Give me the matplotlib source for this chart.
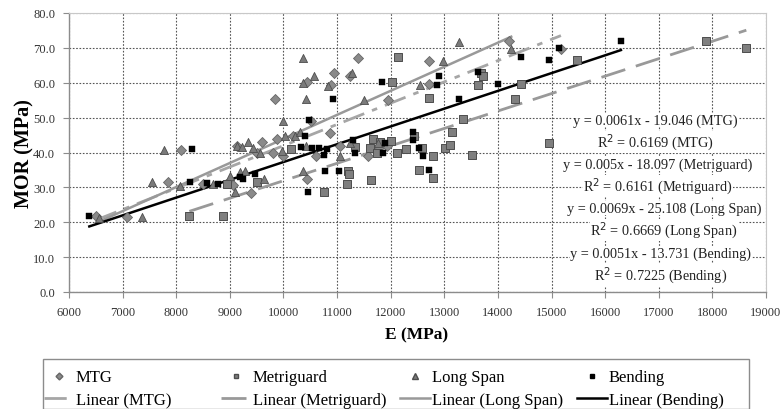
import matplotlib
matplotlib.use("Agg")
import matplotlib.pyplot as plt
from matplotlib.lines import Line2D
from matplotlib.patches import Rectangle
from matplotlib.ticker import FormatStrFormatter, MultipleLocator
import numpy as np

plt.rcParams['font.family'] = ['Liberation Serif', 'DejaVu Serif']

# ---------------- data ----------------
mtg_x = [6498, 7076, 7853, 8090, 8506, 9066, 9140, 9390, 9502, 9607, 9813, 9843, 9875, 9986,
         10186, 10447, 10447, 10510, 10602, 10870, 10890, 10950, 11057, 11243, 11398, 11585,
         11790, 11940, 11958, 12718, 12723, 14198, 15175]
mtg_y = [21.9, 21.4, 31.4, 40.8, 30.9, 30.7, 41.9, 28.4, 39.8, 43.1, 39.8, 55.3, 43.8, 39.0,
         44.8, 32.4, 60.1, 49.1, 39.0, 45.6, 59.4, 62.9, 41.9, 62.0, 67.2, 39.0,
         41.5, 41.9, 55.0, 59.6, 66.3, 72.0, 69.8]

met_x = [8245, 8879, 8943, 9514, 10136, 10764, 11182, 11200, 11225, 11337, 11617, 11630, 11667,
         11742, 11803, 12003, 12020, 12115, 12145, 12288, 12438, 12580, 12519, 12718, 12780,
         12797, 13016, 13109, 13141, 13346, 13514, 13625, 13681, 13718, 14322, 14434, 14944,
         15473, 17880, 18633]
met_y = [21.9, 21.7, 30.9, 31.4, 41.0, 28.6, 30.9, 34.6, 33.8, 41.5, 41.2, 32.1, 43.8,
         40.0, 42.9, 43.2, 60.1, 40.0, 67.4, 41.0, 44.6, 41.2, 35.0, 55.5, 32.6,
         39.0, 41.2, 42.1, 45.8, 49.6, 39.2, 59.4, 62.7, 62.0, 55.3, 59.6, 42.7,
         66.5, 72.0, 69.9]

ls_x = [6560, 7355, 7543, 7778, 8071, 8693, 9004, 9097, 9141, 9191, 9222, 9284, 9346, 9439,
        9564, 9639, 9968, 9999, 10030, 10217, 10311, 10359, 10361, 10373, 10422, 10423, 10577,
        10840, 11057, 11243, 11287, 11505, 11765, 12549, 12972, 13265, 14248]
ls_y = [21.2, 21.4, 31.4, 40.8, 30.5, 30.9, 33.3, 28.6, 41.8, 34.3, 41.6, 34.8, 42.9, 41.3,
        39.8, 32.4, 40.5, 49.1, 44.8, 44.8, 45.8, 34.8, 67.2, 59.8, 55.3, 41.9, 62.0,
        59.1, 39.0, 42.7, 62.9, 55.0, 42.7, 59.4, 66.3, 71.7, 69.6]

bend_x = [6379, 8258, 8289, 8569, 8786, 9191, 9240, 9471, 10324, 10404, 10454, 10478, 10530,
          10671, 10758, 10777, 10820, 10932, 11044, 11305, 11343, 11846, 11853, 11897, 12413,
          12413, 12519, 12598, 12718, 12861, 12904, 13278, 13637, 13998, 14434, 14957, 15130,
          16294]
bend_y = [21.9, 31.4, 41.0, 31.2, 30.9, 32.9, 32.4, 33.8, 41.7, 44.8, 28.7, 49.4, 41.2,
          41.2, 39.2, 34.6, 41.0, 55.3, 34.6, 43.6, 40.0, 60.1, 40.0, 42.6, 45.8,
          43.6, 41.2, 39.0, 35.0, 59.4, 62.0, 55.3, 63.1, 59.6, 67.4, 66.5, 69.9,
          72.0]

series_names = ["MTG", "Metriguard", "Long Span", "Bending"]
slopes = [0.0061, 0.005, 0.0069, 0.0051]
intercepts = [-19.046, -18.097, -25.108, -13.731]
r2 = ["0.6169", "0.6161", "0.6669", "0.7225"]
eq_texts = ["y = 0.0061x - 19.046 (MTG)", "y = 0.005x - 18.097 (Metriguard)",
            "y = 0.0069x - 25.108 (Long Span)", "y = 0.0051x - 13.731 (Bending)"]

# ---------------- figure ----------------
W, H = 782, 410
fig = plt.figure(figsize=(W/100, H/100), dpi=100)
ax = fig.add_axes([69/W, 1-293/H, (766-69)/W, (293-14)/H])

xs_all = [mtg_x, met_x, ls_x, bend_x]

marker_styles = [dict(marker='D', facecolor='#8a8a8a', edgecolor='#666666'),
                 dict(marker='s', facecolor='#7f7f7f', edgecolor='#4d4d4d'),
                 dict(marker='^', facecolor='#7a7a7a', edgecolor='#4d4d4d'),
                 dict(marker='s', facecolor='black', edgecolor='black')]

ax.scatter(mtg_x, mtg_y, s=26, linewidth=0.6, zorder=3, **marker_styles[0])
ax.scatter(met_x, met_y, s=30, linewidth=0.7, zorder=3, **marker_styles[1])
ax.scatter(ls_x, ls_y, s=34, linewidth=0.6, zorder=3, **marker_styles[2])
ax.scatter(bend_x, bend_y, s=14, linewidth=0.3, zorder=4, **marker_styles[3])

line_styles = [dict(color='#a6a6a6', linestyle=(0, (8, 3, 2, 3)), linewidth=2.0),
               dict(color='#999999', linestyle=(0, (9, 4)), linewidth=2.0),
               dict(color='#999999', linestyle='-', linewidth=1.8),
               dict(color='black', linestyle='-', linewidth=1.8)]
for xs, m, b, st in zip(xs_all, slopes, intercepts, line_styles):
    xx = np.array([min(xs), max(xs)], dtype=float)
    ax.plot(xx, m*xx + b, zorder=2, **st)

ax.set_xlim(6000, 19000)
ax.set_ylim(0, 80)
ax.xaxis.set_major_locator(MultipleLocator(1000))
ax.yaxis.set_major_locator(MultipleLocator(10))
ax.yaxis.set_major_formatter(FormatStrFormatter('%.1f'))
ax.grid(True, linestyle=(0, (1.5, 1.5)), color='#555555', linewidth=0.8)
ax.set_axisbelow(True)
for s in ['left', 'bottom']:
    ax.spines[s].set_color('#8c8c8c')
    ax.spines[s].set_linewidth(1.0)
for s in ['top', 'right']:
    ax.spines[s].set_color('#c8c8c8')
    ax.spines[s].set_linewidth(0.8)
ax.tick_params(axis='both', labelsize=9, colors='#333333', length=4, width=0.8, direction='out', pad=6)
ax.tick_params(axis='both', color='#8c8c8c')

ax.set_xlabel("E (MPa)", fontsize=12.5, fontweight='bold')
ax.set_ylabel("MOR (MPa)", fontsize=14.5, fontweight='bold')
ax.yaxis.set_label_coords((24-69)/697, 0.5)
ax.xaxis.set_label_coords((417-69)/697, -(335-293)/279)
ax.xaxis.label.set_va('center')
ax.yaxis.label.set_va('center')

# equation labels
ylines = [121, 143, 165, 187, 209, 231, 254, 276]
xcent = [655, 655, 658, 658, 664, 664, 661, 661]
for i in range(4):
    for j, txt in enumerate([eq_texts[i], "R$^2$ = %s (%s)" % (r2[i], series_names[i])]):
        k = 2*i + j
        fig.text(xcent[k]/W, 1 - ylines[k]/H, txt, ha='center', va='center', fontsize=10.3,
                 color='#222222', bbox=dict(facecolor='white', edgecolor='none', pad=0.5), zorder=5)

# legend: four equal-width columns inside one frame
fig.patches.append(Rectangle((43/W, 0), (749-43)/W, 1-360/H, transform=fig.transFigure,
                             facecolor='white', edgecolor='#8c8c8c', linewidth=1.0, zorder=0))
text_starts = [76, 253, 432, 609]
msizes = [3.5, 3.5, 4.0, 3.2]
fs = 12
for i in range(4):
    mh = Line2D([], [], linestyle='none', markersize=msizes[i], marker=marker_styles[i]['marker'],
                markerfacecolor=marker_styles[i]['facecolor'], markeredgecolor=marker_styles[i]['edgecolor'])
    lh = Line2D([], [], **line_styles[i])
    left = text_starts[i] - 32.5
    leg = fig.legend([mh, lh], [series_names[i], "Linear (%s)" % series_names[i]],
                     loc='upper left', bbox_to_anchor=(left/W, 1-370.5/H),
                     frameon=False, fontsize=fs, handlelength=1.8, handletextpad=0.15,
                     labelspacing=0.4, borderpad=0, borderaxespad=0)

fig.savefig("out.png", dpi=100)
